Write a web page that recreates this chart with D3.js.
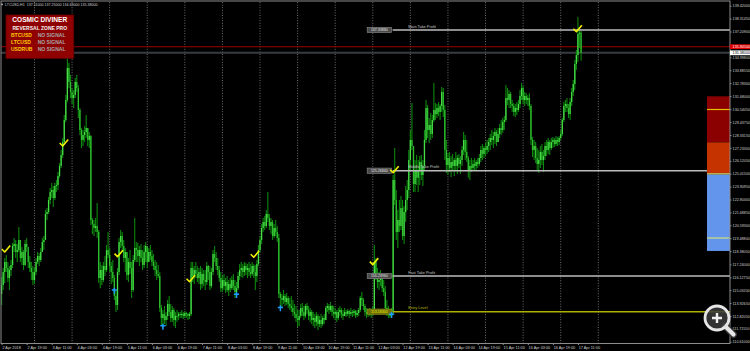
<!DOCTYPE html>
<html>
<head>
<meta charset="utf-8">
<script src="https://cdnjs.cloudflare.com/ajax/libs/d3/7.8.5/d3.min.js"></script>
<style>
  html, body { margin: 0; padding: 0; background: #000; overflow: hidden; }
  svg { display: block; font-family: "Liberation Sans", Arial, sans-serif; }
</style>
</head>
<body>
<svg id="chart"></svg>
<script>
const symbolTitle = 'LTCUSD,H1';
const headerOHLC = ['137.11000', '137.25000', '134.69000', '135.38000'];
const firstBarTime = '2018-04-02T03:00';
const firstOpen = 114.70;

// H1 bars: [high, low, close], open = previous close
const bars = [
  [116.16,113.76,115.47],[116.93,115.04,116.59],[117.79,115.64,117.45],[118.05,116.59,116.93],[117.45,115.73,116.07],
  [117.10,115.04,116.76],[117.62,116.24,117.19],[119.07,116.93,118.82],[119.50,118.30,118.99],[119.33,117.79,118.30],
  [118.99,117.45,118.47],[120.45,118.30,119.33],[119.16,117.45,117.79],[118.73,117.19,118.30],[118.47,116.76,117.19],
  [119.33,117.10,118.99],[119.50,118.30,118.73],[118.30,116.93,117.45],[117.96,116.59,116.93],[117.45,115.90,116.59],
  [117.10,115.47,115.90],[116.93,115.56,116.59],[117.79,116.33,117.45],[118.30,117.27,117.96],[118.22,117.10,117.62],
  [118.65,117.45,118.30],[119.50,118.30,119.16],[119.67,118.47,119.33],[121.90,119.33,121.56],[122.07,121.05,121.73],
  [123.02,121.56,122.76],[123.79,122.42,123.45],[124.22,122.93,123.62],[123.96,122.16,122.93],[124.22,122.76,123.96],
  [124.48,123.45,124.05],[125.16,123.62,124.82],[125.93,124.67,125.68],[127.05,125.51,126.62],[128.08,126.36,127.73],
  [130.05,127.48,129.62],[131.76,129.45,131.33],[134.94,131.16,134.08],[134.51,132.36,132.88],[133.48,131.51,132.02],
  [132.36,130.99,131.51],[132.19,130.65,131.76],[133.22,131.51,132.88],[133.48,132.02,132.36],[132.62,129.79,130.48],
  [130.65,128.33,128.76],[128.93,127.22,127.91],[128.76,127.39,128.33],[129.11,127.73,128.59],[130.05,128.08,128.93],
  [128.93,127.39,127.91],[128.59,127.22,128.25],[128.33,120.62,121.05],[121.22,119.85,120.70],[121.05,119.67,120.36],
  [121.22,120.02,120.53],[122.50,119.50,120.02],[120.19,115.64,116.07],[117.45,115.20,116.76],[117.19,115.47,115.90],
  [117.45,115.73,117.10],[117.96,116.24,116.76],[118.90,116.59,118.47],[120.02,117.79,118.05],[118.65,116.59,117.10],
  [117.45,115.56,116.59],[117.62,115.73,116.07],[116.33,114.19,114.53],[115.04,113.16,113.76],[116.93,113.33,116.59],
  [119.50,116.33,119.16],[120.19,118.65,119.67],[120.02,118.30,118.82],[119.33,117.45,117.79],[118.65,116.59,118.30],
  [118.30,115.90,116.33],[117.79,115.73,117.45],[118.47,116.42,116.93],[117.45,114.36,115.04],[118.05,114.87,117.62],
  [121.22,117.45,118.65],[119.16,117.45,118.47],[119.07,117.45,117.96],[118.82,117.10,118.47],[118.99,117.45,117.79],
  [118.47,116.76,117.19],[118.90,116.93,118.30],[119.16,117.45,118.82],[118.47,116.93,117.45],[118.65,117.45,118.30],
  [118.90,117.62,117.96],[118.47,117.10,117.45],[118.13,116.76,117.10],[117.62,116.24,116.76],[117.45,115.90,116.42],
  [117.19,116.07,116.24],[116.59,113.16,113.50],[113.76,112.04,112.64],[113.33,111.79,112.99],[113.67,112.13,112.47],
  [113.16,111.96,112.82],[114.19,112.47,113.84],[114.53,112.82,113.16],[113.84,112.30,112.64],[113.67,112.30,113.33],
  [113.50,111.96,112.47],[113.16,111.79,112.82],[113.33,112.30,112.82],[113.16,112.47,112.99],[113.16,112.64,112.90],
  [113.33,112.64,112.99],[113.16,112.56,112.82],[113.24,112.64,113.07],[113.16,112.64,112.99],[113.07,112.47,112.82],
  [113.16,112.56,112.99],[117.45,112.82,116.93],[117.45,115.73,116.24],[117.10,115.56,116.76],[117.45,116.07,116.42],
  [117.10,115.73,116.07],[116.93,115.56,116.59],[117.10,115.04,115.56],[116.93,115.20,116.42],[116.76,115.39,115.90],
  [116.76,115.04,115.73],[117.45,115.47,117.10],[117.19,115.90,116.59],[117.10,115.04,115.39],[116.93,115.20,116.59],
  [118.47,116.33,118.13],[118.82,117.45,117.79],[118.30,116.76,117.10],[117.79,116.33,116.76],[117.10,115.73,116.07],
  [116.59,114.87,115.20],[116.24,114.87,115.90],[116.42,115.04,115.39],[116.07,114.79,115.73],[116.24,114.87,115.04],
  [115.90,114.53,115.56],[116.07,114.87,115.20],[116.24,115.04,115.90],[116.42,115.04,115.39],[115.90,114.36,114.87],
  [115.73,114.53,115.20],[116.59,115.04,116.24],[117.27,115.90,116.76],[117.45,116.16,116.93],[117.27,116.07,116.59],
  [117.45,116.24,117.10],[117.36,116.33,116.76],[117.27,116.07,116.93],[117.45,116.24,116.59],[117.27,116.07,116.42],
  [117.45,116.24,117.10],[117.27,116.07,116.59],[117.19,115.04,116.24],[117.62,115.73,117.27],[118.90,117.10,118.47],
  [119.67,118.30,119.33],[120.70,118.99,120.36],[121.22,120.02,120.87],[121.39,120.19,120.53],[121.90,120.36,121.56],
  [123.45,120.87,121.22],[121.56,120.19,120.53],[121.22,119.85,120.87],[121.05,119.33,119.67],[120.70,119.50,120.36],
  [121.05,119.67,120.02],[120.53,119.16,119.50],[119.85,114.36,114.70],[114.87,113.67,114.36],[114.70,113.50,114.19],
  [115.04,113.84,114.53],[114.70,113.67,114.02],[114.79,113.76,114.36],[114.53,113.50,113.84],[114.36,113.33,113.67],
  [114.53,113.16,113.50],[114.19,112.82,113.16],[113.84,112.64,112.99],[113.67,112.30,112.64],[113.33,111.87,112.47],
  [113.33,111.96,112.82],[113.84,112.64,113.50],[113.93,112.82,113.16],[113.67,112.47,112.82],[113.84,112.64,113.67],
  [113.93,112.99,113.33],[113.67,112.47,112.82],[113.50,112.30,113.16],[113.33,112.13,112.47],[113.16,111.96,112.64],
  [112.99,111.79,112.30],[113.16,111.96,112.82],[112.99,111.61,112.13],[112.82,111.87,112.47],[112.99,111.79,112.13],
  [112.82,111.96,112.64],[112.99,112.13,112.47],[113.67,112.47,113.50],[113.93,113.16,113.67],[113.84,112.99,113.33],
  [114.02,113.16,113.67],[113.76,112.82,113.16],[113.67,112.64,112.99],[113.50,112.47,113.16],[113.33,112.30,112.64],
  [113.50,112.47,113.16],[113.67,112.82,113.33],[113.50,112.64,112.99],[113.33,112.47,112.82],[113.50,112.82,113.16],
  [113.33,112.73,112.99],[113.42,112.82,113.24],[113.33,112.64,112.99],[113.50,112.82,113.16],[113.33,112.73,113.07],
  [113.42,112.82,113.24],[113.33,112.64,112.90],[113.33,112.73,113.07],[113.50,112.82,113.33],[114.53,113.16,114.36],
  [114.87,113.67,114.19],[114.36,113.33,113.67],[113.84,112.82,113.16],[113.50,112.64,112.99],[113.33,112.73,113.16],
  [113.50,112.82,113.07],[113.33,112.64,112.99],[113.67,112.82,113.33],[118.90,113.16,117.45],[117.79,115.90,116.42],
  [116.93,115.20,115.73],[116.59,115.04,115.90],[116.76,115.39,116.24],[116.42,114.87,115.20],[115.90,114.53,114.87],
  [115.39,113.16,113.50],[114.19,112.82,113.16],[113.67,112.64,112.99],[113.33,112.64,112.82],[113.50,112.64,113.16],
  [124.90,112.99,124.48],[127.22,122.33,122.76],[123.62,119.33,120.02],[121.90,118.65,121.05],[122.76,120.02,120.53],
  [123.10,120.19,122.07],[122.76,119.33,119.67],[122.25,118.99,121.73],[123.96,120.87,122.76],[124.48,121.90,123.62],
  [127.05,122.93,126.19],[128.76,125.33,127.91],[131.08,127.05,127.39],[127.05,123.45,124.13],[126.19,123.45,125.33],
  [126.62,124.05,124.67],[126.19,123.45,125.33],[126.53,124.05,126.02],[126.62,124.48,124.90],[126.19,123.96,125.68],
  [128.76,125.33,127.91],[131.33,127.65,130.65],[130.91,128.08,128.76],[129.79,127.65,129.19],[130.22,127.91,128.42],
  [130.05,128.08,129.62],[132.79,129.45,130.48],[131.08,129.62,130.13],[130.99,129.79,130.65],[131.16,129.96,130.31],
  [130.99,129.62,130.82],[132.45,130.31,132.02],[132.36,129.88,130.48],[130.91,126.19,127.05],[127.91,125.08,125.76],
  [126.79,124.90,126.36],[126.88,125.16,125.51],[126.53,124.73,126.02],[126.71,125.33,125.68],[126.36,124.82,126.19],
  [126.88,125.33,125.68],[126.62,124.99,126.36],[126.71,125.51,125.85],[126.53,124.99,126.19],[127.39,125.68,127.05],
  [128.59,126.62,127.91],[128.33,126.19,126.88],[127.91,126.02,126.36],[126.53,124.67,125.33],[126.19,124.48,125.68],
  [126.36,125.16,125.51],[126.19,125.33,125.85],[126.36,125.33,125.68],[126.19,125.33,126.02],[126.36,125.51,125.85],
  [126.71,125.68,126.36],[127.39,126.02,127.05],[127.56,126.19,126.71],[127.39,126.36,127.22],[127.65,126.53,127.05],
  [127.91,126.71,127.39],[128.08,126.88,127.73],[128.42,127.05,128.08],[128.76,127.48,127.91],[128.59,127.22,128.25],
  [128.93,127.56,128.59],[128.76,127.39,127.73],[128.93,127.73,128.42],[129.28,128.08,128.93],[129.62,128.33,128.76],
  [129.79,128.51,129.45],[129.96,128.76,129.62],[132.62,129.45,131.51],[132.36,130.91,131.33],[132.19,130.65,131.85],
  [132.02,130.65,130.99],[131.33,130.31,130.82],[131.08,129.96,130.31],[130.99,129.88,130.65],[131.16,130.05,130.48],
  [131.33,130.31,130.99],[132.19,130.65,131.68],[132.79,131.33,132.36],[132.54,130.99,131.33],[132.02,130.82,131.68],
  [131.93,130.99,131.33],[131.76,130.82,131.51],[131.93,130.48,130.82],[130.99,127.48,127.91],[128.16,126.45,127.05],
  [127.91,126.19,127.39],[127.73,125.93,126.36],[127.22,125.33,125.85],[127.05,125.08,126.19],[127.39,125.51,126.88],
  [127.56,125.76,126.19],[127.05,125.16,126.53],[127.73,126.19,127.39],[127.91,126.53,127.05],[128.08,126.71,127.73],
  [127.91,126.62,127.22],[128.08,127.05,127.73],[128.16,127.22,127.91],[128.08,127.31,127.56],[128.25,127.39,127.91],
  [128.16,127.39,127.73],[128.25,127.48,128.08],[128.76,127.91,128.42],[129.79,128.25,129.62],[131.16,129.45,130.82],
  [131.33,130.31,130.99],[131.51,130.31,130.65],[130.99,129.79,130.13],[131.51,129.62,131.16],[132.36,130.82,132.02],
  [133.05,131.68,132.71],[134.76,132.19,134.42],[135.62,133.91,135.19],[138.45,134.59,137.00],[137.34,135.79,137.11],
  [137.25,134.69,135.38]
];

const priceTicks = ['139.42000','138.31450','137.20900','134.99800','133.88550','132.78300','131.68000','130.54050',
  '129.43750','128.33150','127.23300','126.12050','125.01500','123.90950','122.80400','121.68850','120.59300',
  '119.48800','118.38050','117.24000','116.12750','115.03200','113.92650','112.82050','111.71550','110.61000'];
const timeTicks = ['2018-04-02T03:00','2018-04-02T19:00','2018-04-03T11:00','2018-04-04T03:00','2018-04-04T19:00',
  '2018-04-05T11:00','2018-04-06T03:00','2018-04-06T19:00','2018-04-07T11:00','2018-04-08T03:00','2018-04-08T19:00',
  '2018-04-09T11:00','2018-04-10T03:00','2018-04-10T19:00','2018-04-11T11:00','2018-04-12T03:00','2018-04-12T19:00',
  '2018-04-13T11:00','2018-04-14T03:00','2018-04-14T19:00','2018-04-15T11:00','2018-04-16T03:00','2018-04-16T19:00',
  '2018-04-17T11:00'];

const askPrice = 135.905;
const bidPrice = 135.38;

const levelNames = ['Main Take Profit', 'Middle Take Profit', 'Fast Take Profit', 'Entry Level'];
const levelPrices = [137.3388, 125.2684, 116.2396, 113.1830];
const signalBar = 250;

// [bar index, price]
const checkSignals = [[2, 118.30], [39, 127.39], [74, 117.90], [120, 115.75], [161, 117.85], [237, 117.22], [250, 125.10], [367, 137.19]];
const arrowSignals = [[72, 114.98], [103, 111.90], [150, 114.62], [178, 113.47], [249, 112.90]];

const zoneTops = [131.65, 127.70, 124.95];
const zoneBottoms = [127.70, 125.01, 118.39];
const zoneMarks = [130.52, 125.00, 119.50];

const panelTitle = 'COSMIC DIVINER';
const panelSubtitle = 'REVERSAL ZONE PRO';
const panelPairs = ['BTCUSD', 'LTCUSD', 'USDRUB'];
const panelStatus = ['NO SIGNAL', 'NO SIGNAL', 'NO SIGNAL'];

// ---- layout & styles
const width = 750, height = 351;
const plot = { left: 1, top: 1, right: 730, bottom: 343.5 };
const zoneColors = ['#8b0000', '#c43300', '#6495ed'];
const zoneMarkColors = ['#e2c000', '#cfe07a', '#cfe07a'];

const svg = d3.select('#chart').attr('width', width).attr('height', height);
svg.append('rect').attr('width', width).attr('height', height).attr('fill', '#000');

const parseTime = d3.timeParse('%Y-%m-%dT%H:%M');
const t0 = parseTime(firstBarTime);
const barTime = i => d3.timeHour.offset(t0, i);

const x = d3.scaleTime()
  .domain([t0, barTime(381)])
  .range([1.6, 598.3]);
const y = d3.scaleLinear()
  .domain([110.61, 139.42])
  .range([341.7, 5.7]);

svg.append('clipPath').attr('id', 'plotclip')
  .append('rect')
  .attr('x', plot.left).attr('y', plot.top)
  .attr('width', plot.right - plot.left).attr('height', plot.bottom - plot.top);

// day separators
svg.append('g')
  .selectAll('line')
  .data(d3.timeDay.range(d3.timeDay.ceil(t0), barTime(382)))
  .join('line')
  .attr('x1', d => x(d)).attr('x2', d => x(d))
  .attr('y1', plot.top + 1).attr('y2', plot.bottom)
  .attr('stroke', '#8a8a8a')
  .attr('stroke-width', 0.8)
  .attr('stroke-dasharray', '1,1.6');

// ask / bid lines
svg.append('line')
  .attr('x1', plot.left).attr('x2', plot.right)
  .attr('y1', y(bidPrice)).attr('y2', y(bidPrice))
  .attr('stroke', '#383c42').attr('stroke-width', 2);
svg.append('line')
  .attr('x1', plot.left).attr('x2', plot.right)
  .attr('y1', y(askPrice)).attr('y2', y(askPrice))
  .attr('stroke', '#9b0000').attr('stroke-width', 1.1);

// price bars
const series = bars.map((b, i) => ({
  t: barTime(i),
  high: b[0], low: b[1], close: b[2],
  open: i === 0 ? firstOpen : bars[i - 1][2]
}));

const candles = svg.append('g').attr('clip-path', 'url(#plotclip)');
candles.selectAll('line')
  .data(series)
  .join('line')
  .attr('x1', d => x(d.t)).attr('x2', d => x(d.t))
  .attr('y1', d => y(d.high)).attr('y2', d => y(d.low))
  .attr('stroke', '#0d870d')
  .attr('stroke-width', 1.1);
candles.selectAll('rect')
  .data(series)
  .join('rect')
  .attr('x', d => x(d.t) - 0.65)
  .attr('width', 1.3)
  .attr('y', d => y(Math.max(d.open, d.close)))
  .attr('height', d => Math.max(0.8, Math.abs(y(d.open) - y(d.close))))
  .attr('fill', d => d.close >= d.open ? '#46dd46' : '#2fbf2f');

// trade levels
const levelX = x(barTime(signalBar));
const levels = svg.append('g')
  .selectAll('g')
  .data(levelNames.map((name, i) => ({ name, price: levelPrices[i], entry: i === levelNames.length - 1 })))
  .join('g')
  .attr('transform', d => `translate(0,${y(d.price)})`);

levels.append('line')
  .attr('x1', levelX - 0.5).attr('x2', plot.right)
  .attr('stroke', d => d.entry ? '#b0b000' : '#bdbdbd')
  .attr('stroke-width', 1.5);
levels.append('rect')
  .attr('x', levelX - 26).attr('y', -2.7)
  .attr('width', 24.5).attr('height', 5.4)
  .attr('fill', d => d.entry ? '#6e6e08' : '#4a4a4a')
  .attr('stroke', d => d.entry ? '#a0a020' : '#9a9a9a')
  .attr('stroke-width', 0.5);
levels.append('text')
  .attr('x', levelX - 13.75).attr('y', 0.1)
  .attr('text-anchor', 'middle')
  .attr('dominant-baseline', 'middle')
  .attr('font-size', 3.6)
  .attr('fill', d => d.entry ? '#e6e600' : '#e4e4e4')
  .text(d => d3.format('.5f')(d.price));
levels.append('text')
  .attr('x', levelX + 15).attr('y', -3.4)
  .attr('dominant-baseline', 'middle')
  .attr('font-size', 3.9)
  .attr('fill', d => d.entry ? '#b8b800' : '#c8c8c8')
  .text(d => d.name);

// signal marks
svg.append('g')
  .selectAll('path')
  .data(checkSignals)
  .join('path')
  .attr('transform', d => `translate(${x(barTime(d[0]))},${y(d[1])})`)
  .attr('d', 'M-3,-3L0,0L5.5,-6.5')
  .attr('fill', 'none')
  .attr('stroke', '#f2f200')
  .attr('stroke-width', 1.6)
  .attr('stroke-linejoin', 'round');

svg.append('g')
  .selectAll('path')
  .data(arrowSignals)
  .join('path')
  .attr('transform', d => `translate(${x(barTime(d[0]))},${y(d[1])})`)
  .attr('d', 'M0,-3V3M-2.6,-0.8H2.6')
  .attr('stroke', '#1e9bff')
  .attr('stroke-width', 1.5);

// reversal zones
const zoneLeft = plot.right - 23;
const zones = svg.append('g');
zones.selectAll('rect')
  .data(zoneTops.map((top, i) => ({ top, bottom: zoneBottoms[i], color: zoneColors[i] })))
  .join('rect')
  .attr('x', zoneLeft).attr('width', plot.right - zoneLeft)
  .attr('y', d => y(d.top))
  .attr('height', d => y(d.bottom) - y(d.top))
  .attr('fill', d => d.color);
zones.selectAll('line')
  .data(zoneMarks.map((p, i) => ({ p, color: zoneMarkColors[i] })))
  .join('line')
  .attr('x1', zoneLeft).attr('x2', plot.right)
  .attr('y1', d => y(d.p)).attr('y2', d => y(d.p))
  .attr('stroke', d => d.color)
  .attr('stroke-width', 1.2);

// info panel
const panel = svg.append('g').attr('transform', 'translate(6,15)');
panel.append('rect')
  .attr('width', 67.7).attr('height', 43.3)
  .attr('fill', '#8f0000')
  .attr('stroke', '#6a0000').attr('stroke-width', 0.8);
panel.append('text')
  .attr('x', 33.8).attr('y', 5.4)
  .attr('text-anchor', 'middle').attr('dominant-baseline', 'middle')
  .attr('font-size', 6.6).attr('font-weight', 'bold').attr('fill', '#fff')
  .text(panelTitle);
panel.append('text')
  .attr('x', 33.8).attr('y', 13.3)
  .attr('text-anchor', 'middle').attr('dominant-baseline', 'middle')
  .attr('font-size', 5).attr('font-weight', 'bold').attr('fill', '#f2f2f2')
  .text(panelSubtitle);
const rows = panel.selectAll('g.row')
  .data(panelPairs.map((p, i) => ({ p, s: panelStatus[i] })))
  .join('g')
  .attr('class', 'row')
  .attr('transform', (d, i) => `translate(0,${20.4 + i * 7.35})`);
rows.append('text')
  .attr('x', 5).attr('dominant-baseline', 'middle')
  .attr('font-size', 5).attr('font-weight', 'bold').attr('fill', '#ffcc00')
  .text(d => d.p);
rows.append('text')
  .attr('x', 31.7).attr('dominant-baseline', 'middle')
  .attr('font-size', 5).attr('font-weight', 'bold').attr('fill', '#a6a6a6')
  .text(d => d.s);

// frame
svg.append('rect')
  .attr('x', plot.left).attr('y', plot.top)
  .attr('width', plot.right - plot.left).attr('height', plot.bottom - plot.top)
  .attr('fill', 'none')
  .attr('stroke', '#8c8c8c').attr('stroke-width', 1);

// axes
const tickDates = timeTicks.map(parseTime);
const xAxis = svg.append('g')
  .attr('transform', `translate(0,${plot.bottom})`)
  .call(d3.axisBottom(x)
    .tickValues(tickDates)
    .tickFormat((d, i) => i === 0 ? d3.timeFormat('%-d %b %Y')(d) : d3.timeFormat('%-d %b %H:%M')(d))
    .tickSize(1.5));
xAxis.select('.domain').remove();
xAxis.attr('font-size', 3.8).attr('font-family', null);
xAxis.selectAll('line').attr('stroke', '#8c8c8c');
xAxis.selectAll('text')
  .attr('fill', '#cfcfcf')
  .attr('text-anchor', 'start')
  .attr('x', 0.3).attr('y', 4).attr('dy', '0.35em');

const yAxis = svg.append('g')
  .attr('transform', `translate(${plot.right},0)`)
  .call(d3.axisRight(y)
    .tickValues(priceTicks.map(Number))
    .tickFormat((d, i) => priceTicks[i])
    .tickSize(1.5));
yAxis.select('.domain').remove();
yAxis.attr('font-size', 3.7).attr('font-family', null);
yAxis.selectAll('line').attr('stroke', '#8c8c8c');
yAxis.selectAll('text').attr('fill', '#cfcfcf').attr('x', 2.6);

// current price tags
[[askPrice, '#e00000', '#fff'], [bidPrice, '#ffffff', '#000']].forEach(([p, bg, fg]) => {
  const g = svg.append('g').attr('transform', `translate(${plot.right},${y(p)})`);
  g.append('rect').attr('x', 0).attr('y', -2.4).attr('width', 20).attr('height', 4.8).attr('fill', bg);
  g.append('text').attr('x', 2.6).attr('dominant-baseline', 'middle')
    .attr('font-size', 3.7).attr('fill', fg)
    .text(d3.format('.5f')(p));
});

// header
svg.append('rect').attr('x', 1.3).attr('y', 3.6).attr('width', 1.6).attr('height', 1.6).attr('fill', '#bbb');
svg.append('text')
  .attr('x', 5).attr('y', 4.8)
  .attr('dominant-baseline', 'middle')
  .attr('font-size', 3.6)
  .attr('fill', '#d0d0d0')
  .attr('xml:space', 'preserve')
  .text(`${symbolTitle}  ${headerOHLC.join(' ')}`);

// viewer zoom badge
const badge = svg.append('g').attr('transform', 'translate(717,318)');
badge.append('line').attr('x1', 8).attr('y1', 8).attr('x2', 16.5).attr('y2', 16.5)
  .attr('stroke', '#333').attr('stroke-width', 7).attr('stroke-linecap', 'round');
badge.append('line').attr('x1', 8).attr('y1', 8).attr('x2', 16.5).attr('y2', 16.5)
  .attr('stroke', '#e6e6e6').attr('stroke-width', 4.2).attr('stroke-linecap', 'round');
badge.append('circle').attr('r', 12).attr('fill', '#3c3c3c').attr('fill-opacity', 0.85)
  .attr('stroke', '#e6e6e6').attr('stroke-width', 2.8);
badge.append('path').attr('d', 'M-5,0H5M0,-5V5')
  .attr('stroke', '#f0f0f0').attr('stroke-width', 2.4);
</script>
</body>
</html>
